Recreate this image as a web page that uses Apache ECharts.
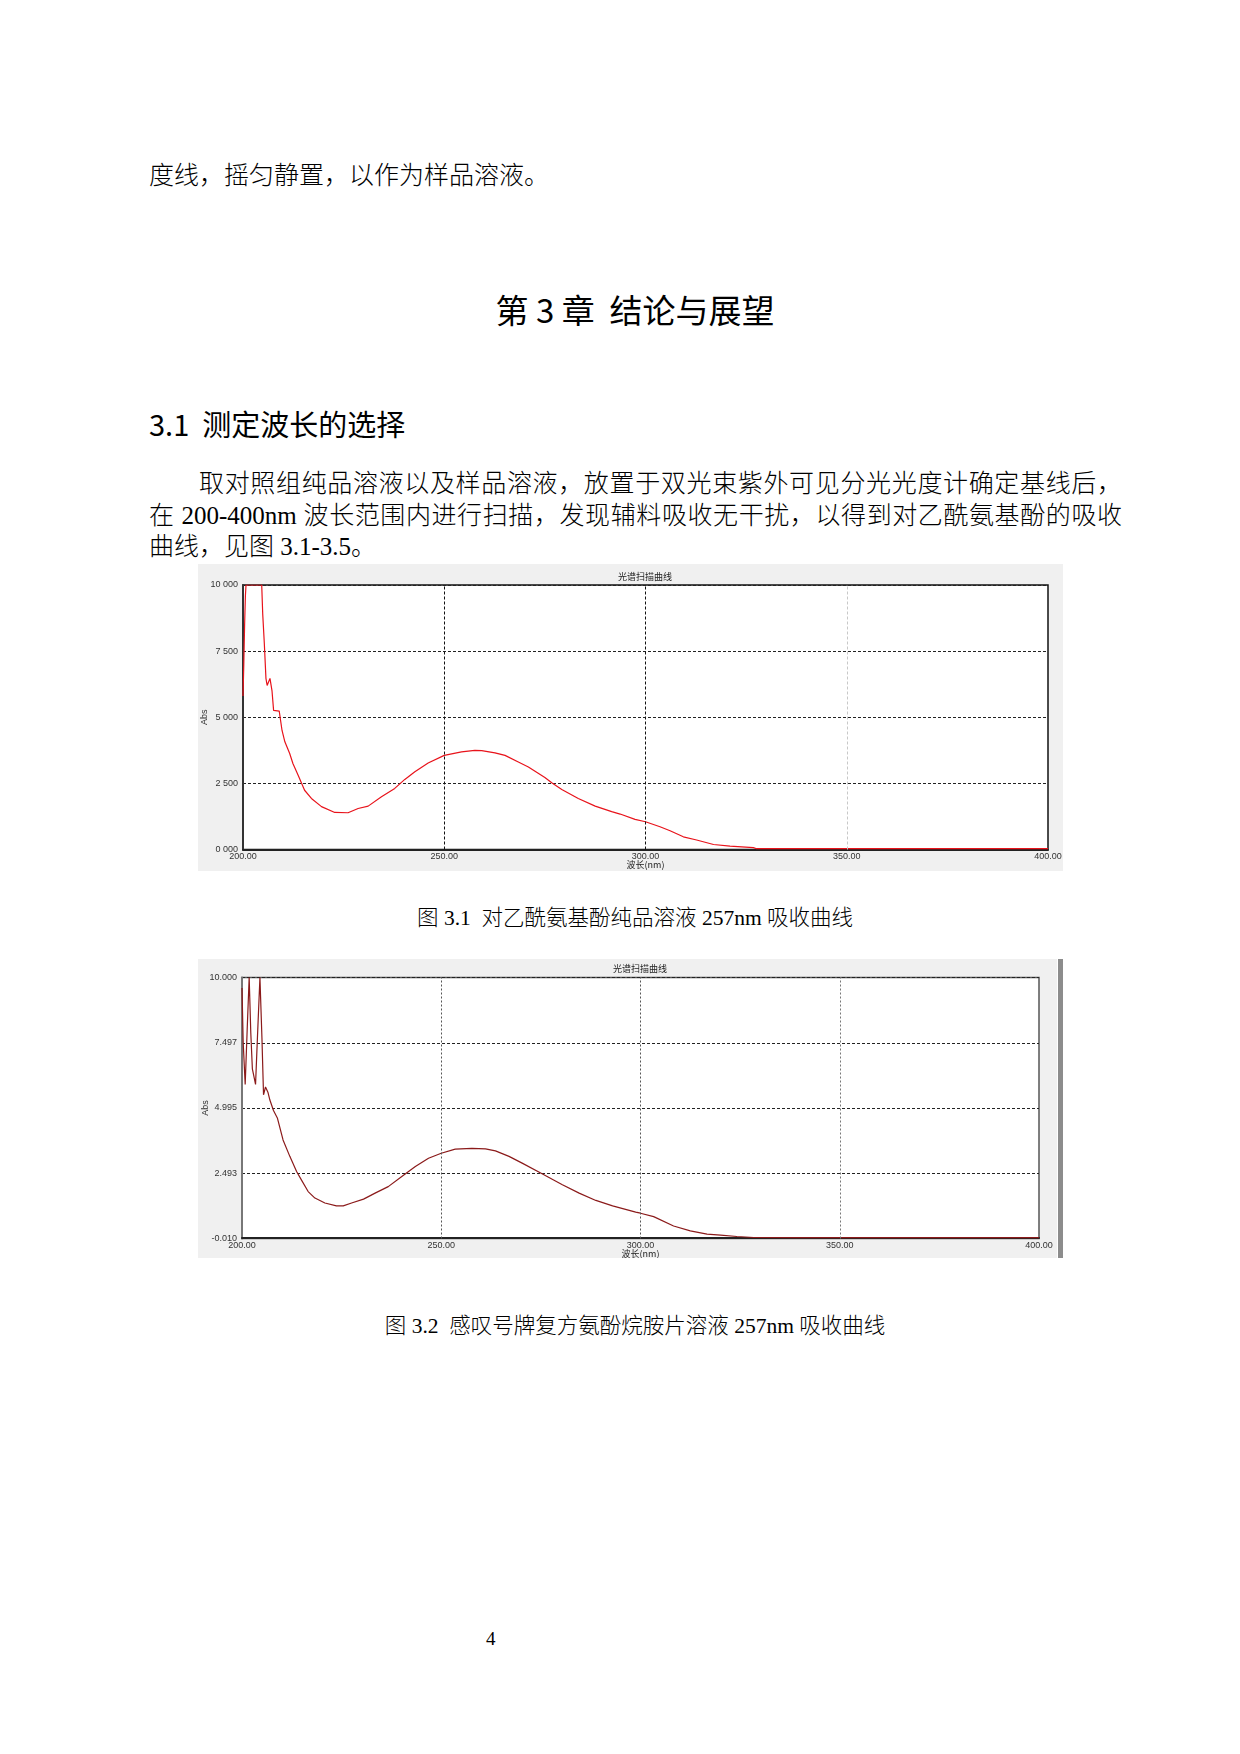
<!DOCTYPE html>
<html>
<head>
<meta charset="utf-8">
<script src="https://cdn.jsdelivr.net/npm/echarts@6/dist/echarts.min.js"></script>
<style>
body { margin: 0; background: #fff; }
#page { position: relative; width: 1240px; height: 1754px; background: #fff; color: #000; }
.t { position: absolute; white-space: nowrap; font-family: "Liberation Serif", "Noto Sans CJK SC", serif; font-weight: 300; }
.body { font-size: 25px; line-height: 31px; height: 31px; left: 149px; width: 973px; text-align: justify; }
.just { text-align-last: justify; }
.hei { font-family: "Noto Sans CJK SC", sans-serif; font-weight: 400; }
</style>
</head>
<body>
<div id="page">
    <div class="t body" style="top:160px;">度线，摇匀静置，以作为样品溶液。</div>
    <div class="t hei" style="left:0;width:1270px;text-align:center;top:287px;font-size:33px;line-height:44px;">第 3 章&nbsp; 结论与展望</div>
    <div class="t hei" style="left:149px;top:403px;font-size:29px;line-height:40px;">3.1&nbsp; 测定波长的选择</div>
    <div class="t body just" style="top:468px;text-indent:50px;">取对照组纯品溶液以及样品溶液，放置于双光束紫外可见分光光度计确定基线后，</div>
    <div class="t body just" style="top:500px;">在 200-400nm 波长范围内进行扫描，发现辅料吸收无干扰，以得到对乙酰氨基酚的吸收</div>
    <div class="t body" style="top:531px;">曲线，见图 3.1-3.5。</div>

    <div id="chart1" style="position:absolute;left:198px;top:564px;width:865px;height:307px;"></div>
    <div class="t" style="left:0;width:1270px;text-align:center;top:903px;font-size:21.5px;line-height:30px;">图 3.1&nbsp; 对乙酰氨基酚纯品溶液 257nm 吸收曲线</div>

    <div id="chart2" style="position:absolute;left:198px;top:959px;width:859px;height:299px;"></div>
    <div style="position:absolute;left:1058px;top:959px;width:5px;height:299px;background:#8c8c8c;"></div>
    <div class="t" style="left:0;width:1270px;text-align:center;top:1311px;font-size:21.5px;line-height:30px;">图 3.2&nbsp; 感叹号牌复方氨酚烷胺片溶液 257nm 吸收曲线</div>

    <div class="t" style="left:486px;top:1627px;font-size:19px;line-height:24px;">4</div>
</div>
<script>
// 坐标刻度
var xTicks = [200, 250, 300, 350, 400];
var xLabels = ['200.00', '250.00', '300.00', '350.00', '400.00'];
var yLabels1 = ['0 000', '2 500', '5 000', '7 500', '10 000'];
var yLabels2 = ['-0.010', '2.493', '4.995', '7.497', '10.000'];

// 图3.1 纯品溶液 (波长nm, 吸光度)
var wave1 = [200.0, 200.2, 200.4, 200.6, 200.75, 202.0, 203.0, 204.65, 204.9, 205.3, 205.7, 206.0, 206.7, 207.2, 207.6,
    209.0, 209.7, 210.4, 211.6, 212.4, 213.7, 215.3, 217.0, 219.5, 222.8, 226.1, 228.6, 231.1, 234.4, 237.7, 240.2,
    242.7, 246.0, 250.0, 254.3, 257.6, 259.3, 262.6, 265.1, 268.4, 270.9, 275.0, 276.7, 279.2, 283.3, 287.5, 291.6,
    293.7, 297.4, 300.0, 303.6, 306.1, 309.4, 312.7, 316.9, 321.0, 326.8, 327.6, 340.0, 360.0, 380.0, 400.0];
var abs1 = [5.8, 7.0, 8.5, 9.6, 10.0, 10.0, 10.0, 10.0, 8.9, 7.78, 6.47, 6.2, 6.47, 6.01, 5.26,
    5.23, 4.5, 4.07, 3.63, 3.25, 2.81, 2.24, 1.93, 1.62, 1.40, 1.39, 1.55, 1.64, 1.99, 2.31, 2.65,
    2.94, 3.27, 3.56, 3.69, 3.75, 3.74, 3.65, 3.56, 3.31, 3.12, 2.72, 2.52, 2.27, 1.93, 1.64, 1.43,
    1.34, 1.14, 1.05, 0.86, 0.71, 0.48, 0.36, 0.19, 0.13, 0.07, 0.03, 0.03, 0.03, 0.03, 0.03];

// 图3.2 样品溶液
var wave2 = [200.0, 200.3, 200.8, 201.3, 201.8, 202.2, 202.6, 203.4, 203.9, 204.5, 205.0, 205.4, 205.9, 206.5, 207.0,
    207.9, 208.9, 210.3, 212.0, 213.7, 214.9, 216.6, 218.3, 220.8, 223.7, 225.4, 227.5, 230.5, 233.4, 236.7, 240.1,
    243.5, 246.8, 250.0, 253.5, 257.7, 261.1, 263.6, 267.0, 270.3, 275.3, 280.4, 284.6, 288.8, 293.0, 298.8, 300.0,
    303.3, 308.3, 312.5, 316.7, 320.1, 324.2, 328.4, 340.0, 360.0, 380.0, 400.0];
var abs2 = [9.6, 7.5, 5.9, 8.0, 10.0, 7.9, 6.5, 5.9, 7.8, 10.0, 7.7, 5.5, 5.8, 5.6, 5.3,
    4.9, 4.6, 3.77, 3.14, 2.56, 2.24, 1.79, 1.54, 1.35, 1.24, 1.24, 1.35, 1.50, 1.73, 1.98, 2.37,
    2.75, 3.07, 3.26, 3.42, 3.45, 3.43, 3.35, 3.14, 2.88, 2.47, 2.05, 1.73, 1.45, 1.24, 1.00, 0.96,
    0.83, 0.47, 0.28, 0.16, 0.12, 0.067, 0.028, 0.02, 0.02, 0.02, 0.02];

function pairs(xs, ys) {
    var out = [];
    for (var i = 0; i < xs.length; i++) {
        out.push([xs[i], ys[i]]);
    }
    return out;
}

var tickFont = { fontSize: 9, fontFamily: 'Liberation Sans', color: '#333' };

function xAxisOpt(nameGap) {
    return {
        type: 'value',
        min: 200,
        max: 400,
        interval: 50,
        name: '波长(nm)',
        nameLocation: 'middle',
        nameGap: nameGap,
        nameMoveOverlap: false,
        nameTextStyle: { fontSize: 9, fontFamily: 'Noto Sans CJK SC', color: '#222' },
        axisLine: { show: true, lineStyle: { color: '#222', width: 2 } },
        axisTick: { show: false },
        splitLine: { show: false },
        axisLabel: {
            margin: 3,
            fontSize: 9, fontFamily: 'Liberation Sans', color: '#333',
            formatter: function (v) {
                return xLabels[xTicks.indexOf(v)];
            }
        }
    };
}

function vLines(c1, c2, t1, t2) {
    return {
        silent: true,
        symbol: ['none', 'none'],
        label: { show: false },
        animation: false,
        data: [
            { xAxis: 250, lineStyle: { color: c1, width: 1, type: t1 } },
            { xAxis: 300, lineStyle: { color: c1, width: 1, type: t1 } },
            { xAxis: 350, lineStyle: { color: c2, width: 1, type: t2 } }
        ]
    };
}

function PureEcharts() {
    var dom = document.getElementById("chart1");
    var myChart = echarts.init(dom, null, { renderer: 'canvas' });
    var option = {
        animation: false,
        backgroundColor: '#f0f0f0',
        grid: {
            left: 45, top: 21, right: 15, bottom: 21.5,
            outerBoundsMode: 'none',
            containLabel: false,
            show: true, backgroundColor: '#fff', borderColor: '#111', borderWidth: 1.5
        },
        graphic: [{
            type: 'text', x: 447, y: 13,
            style: { text: '光谱扫描曲线', textAlign: 'center', textVerticalAlign: 'middle',
                font: '9px "Noto Sans CJK SC"', fill: '#222' }
        }],
        xAxis: xAxisOpt(11),
        yAxis: {
            type: 'value',
            min: 0,
            max: 10,
            interval: 2.5,
            name: 'Abs',
            nameLocation: 'middle',
            nameGap: 34,
            nameMoveOverlap: false,
            nameTextStyle: tickFont,
            axisLine: { show: true, lineStyle: { color: '#333', width: 2 } },
            axisTick: { show: false },
            splitLine: { show: true, lineStyle: { color: '#222', width: 1, type: [3, 2] } },
            axisLabel: {
                margin: 5,
                fontSize: 9, fontFamily: 'Liberation Sans', color: '#333',
                formatter: function (v, i) {
                    return yLabels1[i];
                }
            }
        },
        series: [{
            type: 'line',
            data: pairs(wave1, abs1),
            showSymbol: false,
            smooth: false,
            lineStyle: { color: '#e8131b', width: 1.2 },
            markLine: vLines('#111', '#c8c8c8', [3, 2], [3, 2])
        }]
    };
    myChart.setOption(option, true);
}

function SampleEcharts() {
    var dom = document.getElementById("chart2");
    var myChart = echarts.init(dom, null, { renderer: 'canvas' });
    var option = {
        animation: false,
        backgroundColor: '#f0f0f0',
        grid: {
            left: 44, top: 18.5, right: 18, bottom: 19.5,
            outerBoundsMode: 'none',
            containLabel: false,
            show: true, backgroundColor: '#fff', borderColor: '#555', borderWidth: 1.5
        },
        graphic: [{
            type: 'text', x: 442, y: 9.5,
            style: { text: '光谱扫描曲线', textAlign: 'center', textVerticalAlign: 'middle',
                font: '9px "Noto Sans CJK SC"', fill: '#222' }
        }],
        xAxis: xAxisOpt(11),
        yAxis: [{
            // 数据轴，-0.010 ~ 10.000
            type: 'value',
            min: -0.01,
            max: 10,
            show: false
        }, {
            // 刻度轴，四等分
            type: 'value',
            position: 'left',
            min: 0,
            max: 4,
            interval: 1,
            name: 'Abs',
            nameLocation: 'middle',
            nameGap: 32,
            nameMoveOverlap: false,
            nameTextStyle: tickFont,
            axisLine: { show: true, lineStyle: { color: '#777', width: 2 } },
            axisTick: { show: false },
            splitLine: { show: true, lineStyle: { color: '#222', width: 1, type: [3, 2] } },
            axisLabel: {
                margin: 5,
                fontSize: 9, fontFamily: 'Liberation Sans', color: '#333',
                formatter: function (v, i) {
                    return yLabels2[i];
                }
            }
        }],
        series: [{
            type: 'line',
            yAxisIndex: 0,
            data: pairs(wave2, abs2),
            showSymbol: false,
            smooth: false,
            lineStyle: { color: '#8b1a1a', width: 1.2 },
            markLine: vLines('#555', '#777', [2, 2], [2, 2])
        }]
    };
    myChart.setOption(option, true);
}

PureEcharts();
SampleEcharts();
</script>
</body>
</html>
